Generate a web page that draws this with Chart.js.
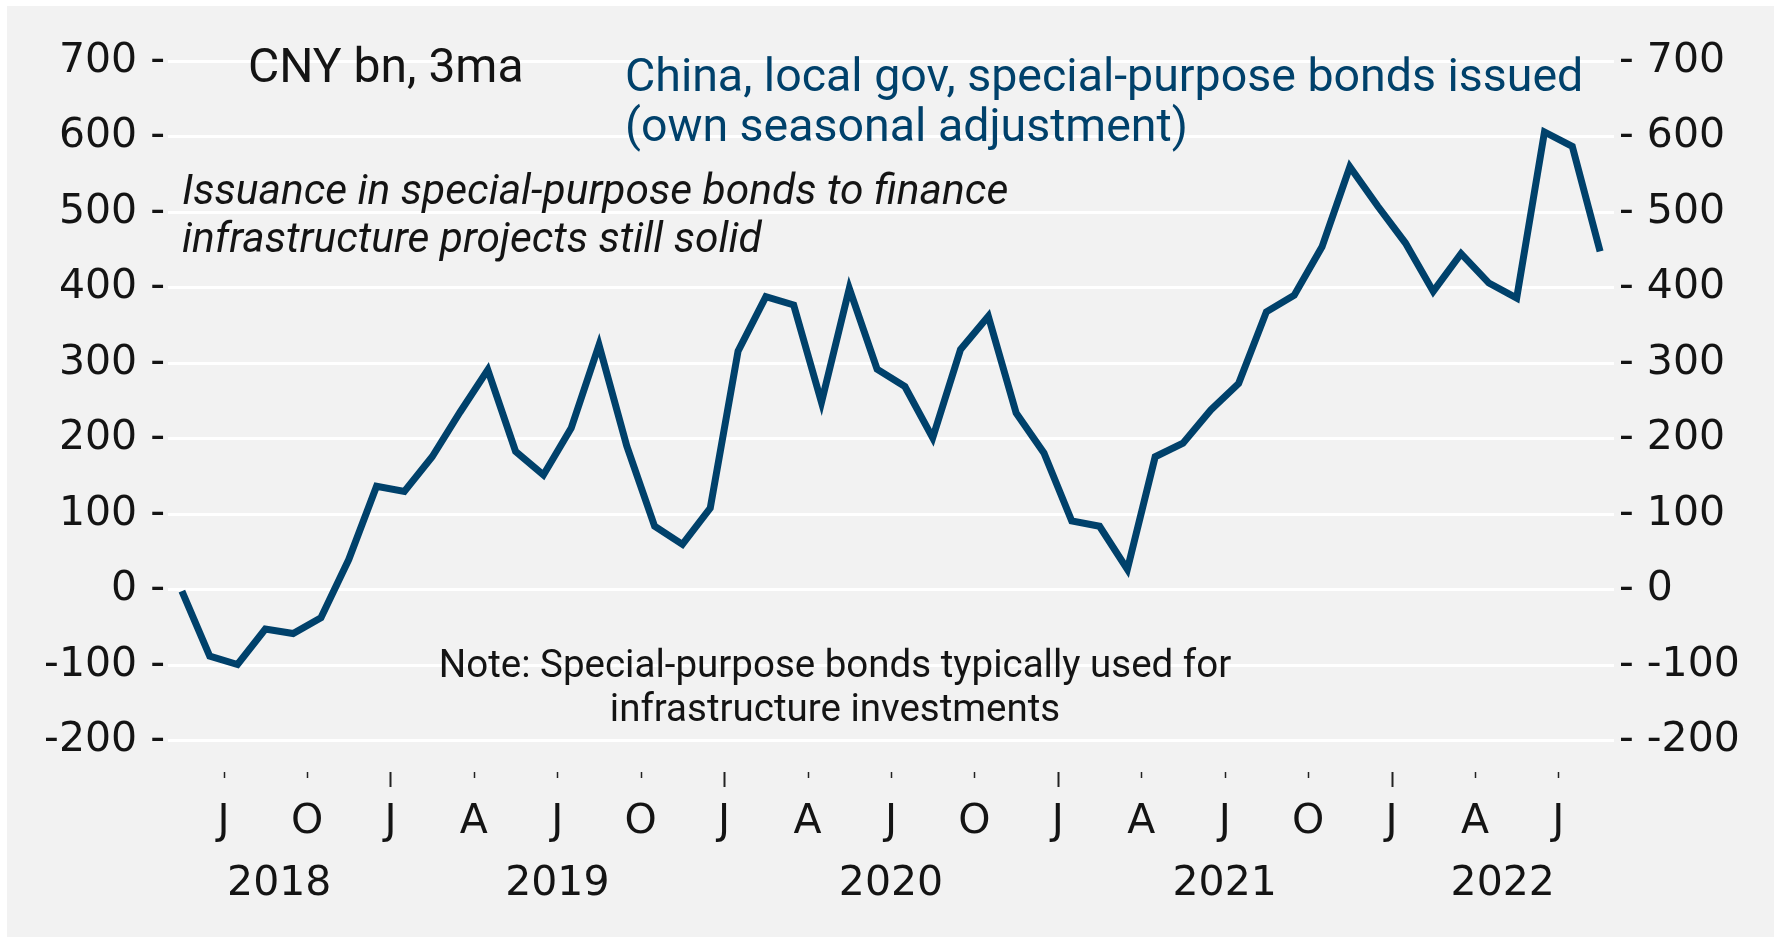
<!DOCTYPE html>
<html>
<head>
<meta charset="utf-8">
<script src="https://cdn.jsdelivr.net/npm/chart.js@4.4.0/dist/chart.umd.min.js"></script>
<style>
  html, body { margin: 0; padding: 0; background: #fff; }
</style>
</head>
<body>
<canvas id="chart" width="1781" height="941"></canvas>
<script>
// China, local gov special-purpose bonds issued, CNY bn, 3ma, monthly May 2018 - Aug 2022
const firstMonth = '2018-05';
const bondValues = [
  -2, -88, -99, -52, -58, -37, 40, 137, 130, 176, 235, 291,
  183, 152, 214, 324, 190, 84, 60, 108, 316, 388, 377, 248,
  399, 292, 269, 201, 318, 362, 234, 181, 91, 84, 27, 176,
  194, 238, 273, 368, 390, 454, 560, 508, 459, 395, 445, 406,
  386, 606, 587, 448
];
const tickMonths = [
  '2018-07', '2018-10', '2019-01', '2019-04', '2019-07', '2019-10',
  '2020-01', '2020-04', '2020-07', '2020-10', '2021-01', '2021-04',
  '2021-07', '2021-10', '2022-01', '2022-04', '2022-07'
];
const tickLetters = ['J', 'O', 'J', 'A', 'J', 'O', 'J', 'A', 'J', 'O', 'J', 'A', 'J', 'O', 'J', 'A', 'J'];
const years = ['2018', '2019', '2020', '2021', '2022'];
const yTicks = [-200, -100, 0, 100, 200, 300, 400, 500, 600, 700];

const LINE_COLOR = '#00416b';
const TEXT_COLOR = '#141414';
const TICK_FONT = { family: 'DejaVu Sans', size: 41 };

// months since Jan 2018 (start of the month)
function monthValue(str) {
  const [y, m] = str.split('-').map(Number);
  return (y - 2018) * 12 + (m - 1);
}

const xMin = monthValue(firstMonth);
const xMax = xMin + bondValues.length;
const points = bondValues.map((v, i) => ({ x: xMin + i + 0.5, y: v }));

// year labels sit in the middle of the part of each year that has data
const yearCenters = years.map(y => {
  const a = Math.max(xMin, monthValue(y + '-01'));
  const b = Math.min(xMax, monthValue(y + '-01') + 12);
  return (a + b) / 2;
});

const backdrop = {
  id: 'backdrop',
  beforeDraw(chart) {
    const ctx = chart.ctx;
    ctx.save();
    ctx.fillStyle = '#ffffff';
    ctx.fillRect(0, 0, chart.width, chart.height);
    ctx.fillStyle = '#f2f2f2';
    ctx.fillRect(7, 6, 1767, 931);
    ctx.restore();
  }
};

const tickMarks = {
  id: 'tickMarks',
  afterDraw(chart) {
    const ctx = chart.ctx;
    const xs = chart.scales.x;
    const top = chart.chartArea.bottom + 1;
    ctx.save();
    ctx.strokeStyle = '#222';
    tickMonths.forEach(m => {
      const px = Math.round(xs.getPixelForValue(monthValue(m))) + 0.5;
      const jan = m.endsWith('-01');
      ctx.lineWidth = jan ? 2 : 1.5;
      ctx.beginPath();
      ctx.moveTo(px, top);
      ctx.lineTo(px, top + (jan ? 15 : 6));
      ctx.stroke();
    });
    ctx.restore();
  }
};

const notes = {
  id: 'notes',
  afterDraw(chart) {
    const ctx = chart.ctx;
    ctx.save();
    ctx.textBaseline = 'alphabetic';
    ctx.textAlign = 'left';

    ctx.fillStyle = TEXT_COLOR;
    ctx.font = '48px Roboto';
    ctx.fillText('CNY bn, 3ma', 248, 82);

    ctx.fillStyle = LINE_COLOR;
    ctx.font = '46.5px Roboto';
    ctx.fillText('China, local gov, special-purpose bonds issued', 625, 91);
    ctx.fillText('(own seasonal adjustment)', 625, 141);

    ctx.fillStyle = TEXT_COLOR;
    ctx.font = 'italic 42.5px Roboto';
    ctx.fillText('Issuance in special-purpose bonds to finance', 182, 204);
    ctx.fillText('infrastructure projects still solid', 182, 252);

    ctx.textAlign = 'center';
    ctx.font = '38.5px Roboto';
    ctx.fillText('Note: Special-purpose bonds typically used for', 835, 677);
    ctx.fillText('infrastructure investments', 835, 721);
    ctx.restore();
  }
};

new Chart(document.getElementById('chart').getContext('2d'), {
  type: 'line',
  data: {
    datasets: [{
      data: points,
      borderColor: LINE_COLOR,
      borderWidth: 7,
      pointRadius: 0,
      tension: 0,
      fill: false
    }]
  },
  options: {
    responsive: false,
    animation: false,
    devicePixelRatio: 1,
    layout: { padding: { top: 61, left: 0, right: 0, bottom: 0 } },
    plugins: { legend: { display: false }, tooltip: { enabled: false } },
    scales: {
      x: {
        type: 'linear',
        position: 'bottom',
        weight: 0,
        min: xMin,
        max: xMax,
        grid: { display: false },
        border: { display: false },
        afterBuildTicks: s => { s.ticks = tickMonths.map(m => ({ value: monthValue(m) })); },
        afterFit: s => { s.height = 78; },
        ticks: {
          autoSkip: false,
          maxRotation: 0,
          padding: 19,
          color: TEXT_COLOR,
          font: TICK_FONT,
          callback: (v, i) => tickLetters[i]
        }
      },
      years: {
        type: 'linear',
        position: 'bottom',
        weight: 1,
        min: xMin,
        max: xMax,
        grid: { display: false },
        border: { display: false },
        afterBuildTicks: s => { s.ticks = yearCenters.map(v => ({ value: v })); },
        afterFit: s => { s.height = 92; },
        ticks: {
          autoSkip: false,
          maxRotation: 0,
          padding: 3,
          color: TEXT_COLOR,
          font: TICK_FONT,
          callback: (v, i) => years[i]
        }
      },
      y: {
        position: 'left',
        min: -240,
        max: 700,
        afterBuildTicks: s => { s.ticks = yTicks.map(v => ({ value: v })); },
        afterFit: s => { s.width = 168; },
        grid: { color: '#ffffff', lineWidth: 3, drawTicks: false },
        border: { display: false },
        ticks: {
          padding: 3,
          color: TEXT_COLOR,
          font: TICK_FONT,
          callback: v => v + ' -'
        }
      },
      y2: {
        position: 'right',
        min: -240,
        max: 700,
        afterBuildTicks: s => { s.ticks = yTicks.map(v => ({ value: v })); },
        afterFit: s => { s.width = 167; },
        grid: { display: false, drawTicks: false },
        border: { display: false },
        ticks: {
          padding: 5,
          color: TEXT_COLOR,
          font: TICK_FONT,
          callback: v => '- ' + v
        }
      }
    }
  },
  plugins: [backdrop, tickMarks, notes]
});
</script>
</body>
</html>
